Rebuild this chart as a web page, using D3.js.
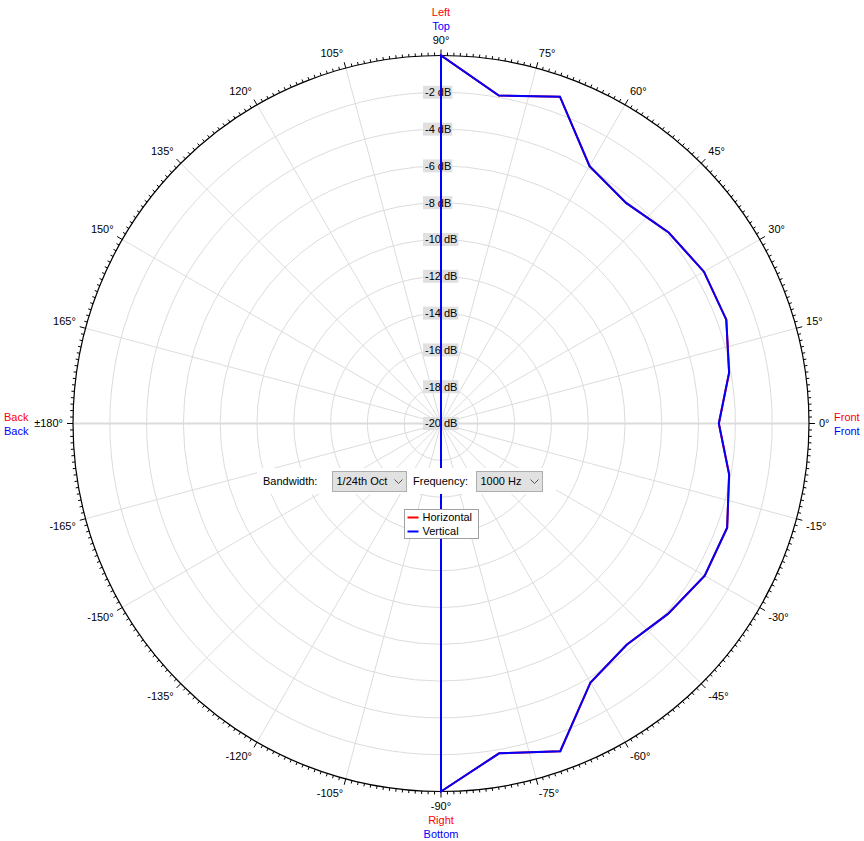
<!DOCTYPE html>
<html>
<head>
<meta charset="utf-8">
<script src="https://cdn.jsdelivr.net/npm/d3@7"></script>
<style>
  body { margin: 0; background: #fff; }
  text { font-family: "Liberation Sans", Arial, sans-serif; font-size: 11px; }
</style>
</head>
<body>
<script>
// polar response, 10 degree steps, -180..170
var angles = [-180, -170, -160, -150, -140, -130, -120, -110, -100,
  -90, -80, -70, -60, -50, -40, -30, -20, -10, 0,
  10, 20, 30, 40, 50, 60, 70, 80, 90,
  100, 110, 120, 130, 140, 150, 160, 170];
var horizontal = [-20, -20, -20, -20, -20, -20, -20, -20, -20,
  0, -1.8, -1.05, -3.75, -4.3, -3.9, -3.45, -3.45, -4.1, -4.9,
  -4.1, -3.5, -3.5, -3.85, -4.35, -3.85, -1.1, -1.9, 0,
  -20, -20, -20, -20, -20, -20, -20, -20];
var vertical = [-20, -20, -20, -20, -20, -20, -20, -20, -20,
  0, -1.8, -1.05, -3.75, -4.3, -3.9, -3.45, -3.45, -4.1, -4.9,
  -4.1, -3.5, -3.5, -3.85, -4.35, -3.85, -1.1, -1.9, 0,
  -20, -20, -20, -20, -20, -20, -20, -20];
var dbRings = [-2, -4, -6, -8, -10, -12, -14, -16, -18, -20];
var angleTicks = [0, 15, 30, 45, 60, 75, 90, 105, 120, 135, 150, 165, 180,
  -165, -150, -135, -120, -105, -90, -75, -60, -45, -30, -15];
var seriesNames = ["Horizontal", "Vertical"];
var seriesColors = ["#ff0000", "#0000ff"];

var width = 864, height = 841;
var cx = 441, cy = 423.5, R = 368;

var r = d3.scaleLinear().domain([-20, 0]).range([0, R]).clamp(true);
var rad = d => d * Math.PI / 180;
var px = (a, rr) => cx + rr * Math.cos(rad(a));
var py = (a, rr) => cy - rr * Math.sin(rad(a));

var svg = d3.select("body").append("svg")
    .attr("width", width)
    .attr("height", height);

// rings
svg.append("g")
    .attr("fill", "none")
    .attr("stroke", "#dcdcdc")
  .selectAll("circle")
  .data(dbRings.filter(d => d > -20))
  .join("circle")
    .attr("cx", cx).attr("cy", cy)
    .attr("r", d => r(d));

// spokes
svg.append("g")
    .attr("stroke", "#dcdcdc")
  .selectAll("line")
  .data(angleTicks)
  .join("line")
    .attr("x1", cx).attr("y1", cy)
    .attr("x2", d => px(d, R)).attr("y2", d => py(d, R))
    .attr("stroke-width", d => d % 90 == 0 ? 2 : 1);

// outer circle + ticks
svg.append("circle")
    .attr("cx", cx).attr("cy", cy).attr("r", R)
    .attr("fill", "none").attr("stroke", "#000").attr("stroke-width", 1.2);

var minor = d3.range(-179, 181);
svg.append("g")
    .attr("stroke", "#000")
  .selectAll("line")
  .data(minor)
  .join("line")
    .attr("x1", d => px(d, R)).attr("y1", d => py(d, R))
    .attr("x2", d => px(d, R + (d % 15 == 0 ? 6 : 3)))
    .attr("y2", d => py(d, R + (d % 15 == 0 ? 6 : 3)));

// angle labels
function fmtAngle(a) {
  if (Math.abs(a) == 180) return "\u00b1180\u00b0";
  return a + "\u00b0";
}
svg.append("g")
  .selectAll("text")
  .data(angleTicks)
  .join("text")
    .attr("x", d => px(d, R + 10))
    .attr("y", d => py(d, R + 10))
    .attr("text-anchor", d => {
      var c = Math.cos(rad(d));
      return Math.abs(c) < 0.2 ? "middle" : (c > 0 ? "start" : "end");
    })
    .attr("dy", d => {
      var s = Math.sin(rad(d));
      return s > 0.2 ? "-0.1em" : (s < -0.2 ? "0.8em" : "0.35em");
    })
    .text(fmtAngle);

// side names
var sides = [
  {t: "Left", c: "#ff0000", x: cx, y: 12, a: "middle"},
  {t: "Top", c: "#0000ff", x: cx, y: 26, a: "middle"},
  {t: "Right", c: "#ff0000", x: cx, y: 820, a: "middle"},
  {t: "Bottom", c: "#0000ff", x: cx, y: 834, a: "middle"},
  {t: "Back", c: "#ff0000", x: 4, y: 417, a: "start"},
  {t: "Back", c: "#0000ff", x: 4, y: 431, a: "start"},
  {t: "Front", c: "#ff0000", x: 834, y: 417, a: "start"},
  {t: "Front", c: "#0000ff", x: 834, y: 431, a: "start"}
];
svg.append("g")
  .selectAll("text")
  .data(sides)
  .join("text")
    .attr("x", d => d.x).attr("y", d => d.y)
    .attr("dy", "0.35em")
    .attr("text-anchor", d => d.a)
    .attr("fill", d => d.c)
    .text(d => d.t);

// dB labels with grey boxes
var lab = svg.append("g")
  .selectAll("g")
  .data(dbRings)
  .join("g")
    .attr("transform", d => "translate(423," + (cy - r(d)) + ")");
lab.append("rect")
    .attr("y", -6.5).attr("height", 13)
    .attr("fill", "#e0e0e0");
lab.append("text")
    .attr("x", 2).attr("dy", "0.35em")
    .text(d => d + " dB");
lab.each(function() {
  var w = d3.select(this).select("text").node().getComputedTextLength();
  d3.select(this).select("rect").attr("width", w + 3);
});

// curves
var line = d3.lineRadial()
    .angle((d, i) => rad(90 - angles[i]))
    .radius(d => r(d))
    .curve(d3.curveLinearClosed);

var plot = svg.append("g").attr("transform", "translate(" + cx + "," + cy + ")");
[horizontal, vertical].forEach((s, i) => {
  plot.append("path")
      .attr("d", line(s))
      .attr("fill", "none")
      .attr("stroke", seriesColors[i])
      .attr("stroke-width", 2);
});

// control strip
var ctl = svg.append("g");
ctl.append("rect").attr("x", 257).attr("y", 468).attr("width", 299).attr("height", 26).attr("fill", "#fff");
ctl.append("text").attr("x", 263).attr("y", 481).attr("dy", "0.35em").text("Bandwidth:");
ctl.append("text").attr("x", 413).attr("y", 481).attr("dy", "0.35em").text("Frequency:");

var combos = [
  {x: 332.5, w: 74, t: "1/24th Oct"},
  {x: 476.5, w: 66, t: "1000 Hz"}
];
var cb = ctl.selectAll("g.combo")
  .data(combos)
  .join("g")
    .attr("class", "combo")
    .attr("transform", d => "translate(" + d.x + ",471.5)");
cb.append("rect")
    .attr("width", d => d.w).attr("height", 20)
    .attr("fill", "#e1e1e1").attr("stroke", "#adadad");
cb.append("text")
    .attr("x", 4).attr("y", 10).attr("dy", "0.35em")
    .text(d => d.t);
cb.append("path")
    .attr("d", d => "M" + (d.w - 12) + ",8l4,4l4,-4")
    .attr("fill", "none").attr("stroke", "#555");

// legend
var leg = svg.append("g").attr("transform", "translate(404.5,509.5)");
leg.append("rect").attr("width", 74).attr("height", 29)
    .attr("fill", "#fff").attr("stroke", "#a0a0a0");
var li = leg.selectAll("g.item")
  .data(seriesNames)
  .join("g")
    .attr("class", "item")
    .attr("transform", (d, i) => "translate(0," + (8 + i * 14) + ")");
li.append("line")
    .attr("x1", 3).attr("x2", 14)
    .attr("stroke", (d, i) => seriesColors[i]).attr("stroke-width", 2);
li.append("text")
    .attr("x", 18).attr("dy", "0.35em")
    .text(d => d);
</script>
</body>
</html>
